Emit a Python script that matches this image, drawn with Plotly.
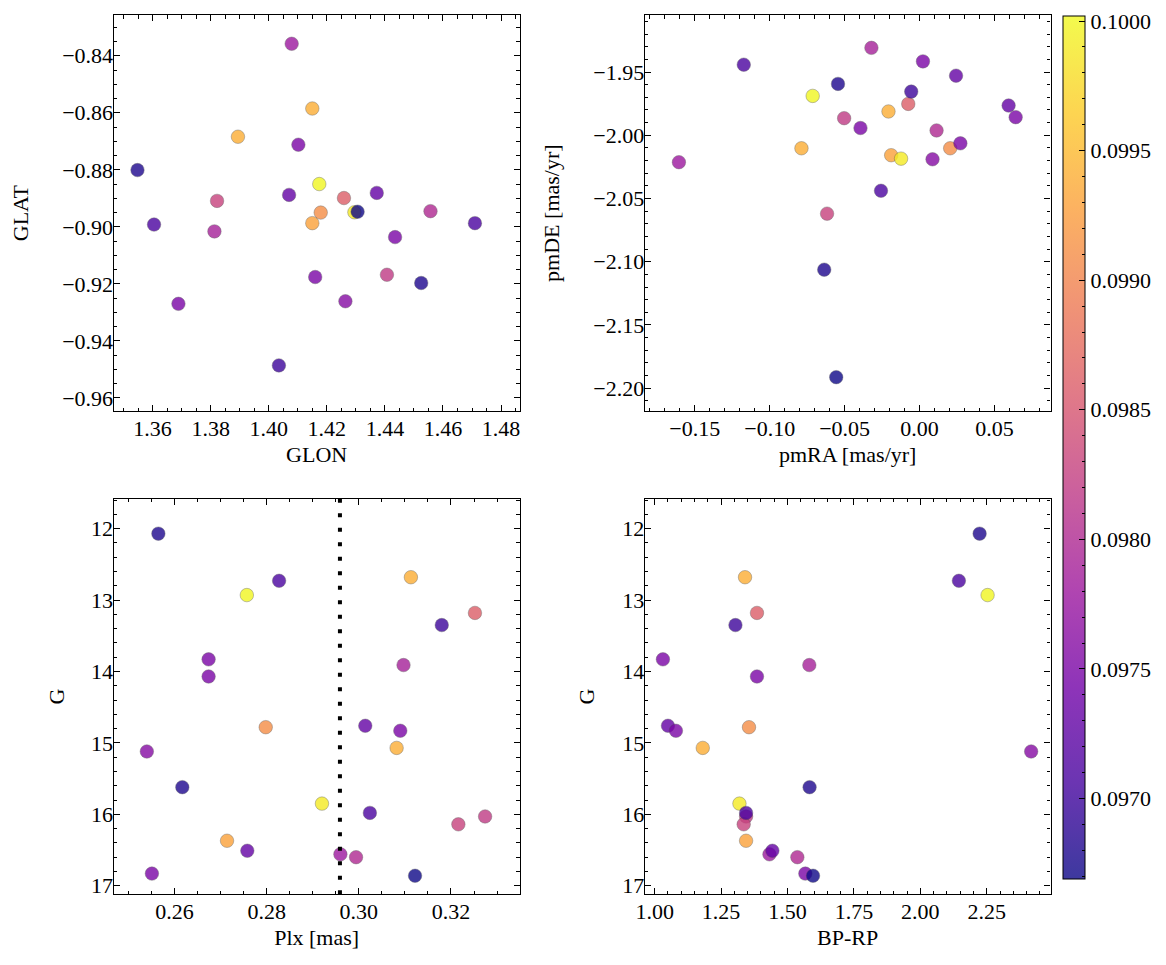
import plotly.graph_objects as go

# ---- data (one entry per star) ----
plx   = [0.3097, 0.2960, 0.2994, 0.3252, 0.3274, 0.3216, 0.2798, 0.3113, 0.3082, 0.2714,
         0.2757, 0.2920, 0.2674, 0.2674, 0.3014, 0.3090, 0.2540, 0.2758, 0.2551,
         0.2827, 0.3180, 0.3024, 0.2565, 0.2617, 0.3122]
gmag  = [13.91, 16.56, 16.60, 13.18, 16.03, 16.14, 14.78, 12.68, 15.07, 16.37,
         12.93, 15.85, 13.83, 14.07, 14.76, 14.83, 15.12, 16.51, 16.83,
         12.73, 13.35, 15.98, 12.07, 15.62, 16.86]
bprp  = [1.582, 1.432, 1.537, 1.385, 1.344, 1.335, 1.355, 1.340, 1.181, 1.344,
         2.253, 1.319, 1.031, 1.385, 1.050, 1.080, 2.417, 1.443, 1.567,
         2.145, 1.304, 1.344, 2.223, 1.583, 1.596]
glon  = [1.3813, 1.4079, 1.4557, 1.4259, 1.4407, 1.3822, 1.4179, 1.3894, 1.4150, 1.4150,
         1.4174, 1.4295, 1.3689, 1.4102, 1.4070, 1.4160, 1.4264, 1.4372, 1.4435,
         1.3605, 1.4035, 1.4710, 1.3548, 1.4525, 1.4306]
glat  = [-0.9016, -0.8358, -0.8945, -0.8899, -0.9168, -0.8909, -0.8950, -0.8684, -0.8585, -0.8987,
         -0.8850, -0.8949, -0.9270, -0.8712, -0.8888, -0.9176, -0.9261, -0.8881, -0.9036,
         -0.8992, -0.9486, -0.8987, -0.8801, -0.9197, -0.8947]
pmra  = [-0.0321, -0.1606, 0.0114, -0.0075, -0.0503, -0.0617, 0.0205, -0.0788, -0.0207, -0.0189,
         -0.0713, -0.0123, -0.0394, 0.0023, 0.0244, 0.0273, 0.0087, 0.0595, 0.0642,
         -0.1173, -0.0055, -0.0257, -0.0544, -0.0636, -0.0556]
pmde  = [-1.9309, -2.0213, -1.9962, -1.9752, -1.9865, -2.0620, -2.0103, -2.0103, -1.9812, -2.0158,
         -1.9689, -2.0185, -1.9943, -1.9416, -1.9529, -2.0064, -2.0190, -1.9765, -1.9857,
         -1.9442, -1.9655, -2.0439, -1.9594, -2.1063, -2.1913]
cval  = [0.0979, 0.0978, 0.0980, 0.0986, 0.0982, 0.0983, 0.0991, 0.0994, 0.0994, 0.0993,
         0.1000, 0.0999, 0.0975, 0.0975, 0.0973, 0.0975, 0.0976, 0.0973, 0.0975,
         0.0971, 0.0970, 0.0971, 0.0968, 0.0968, 0.0967]
PLX_REF = 0.2959
CMIN, CMAX = 0.09669, 0.10002
CB_MAJOR = [0.0970, 0.0975, 0.0980, 0.0985, 0.0990, 0.0995, 0.1000]
CB_MINOR = [0.0967, 0.0968, 0.0969, 0.0971, 0.0972, 0.0973, 0.0974, 0.0976, 0.0977, 0.0978,
            0.0979, 0.0981, 0.0982, 0.0983, 0.0984, 0.0986, 0.0987, 0.0988, 0.0989,
            0.0991, 0.0992, 0.0993, 0.0994, 0.0996, 0.0997, 0.0998, 0.0999]

plasma = ['#0d0887', '#46039f', '#7201a8', '#9c179e', '#bd3786',
          '#d8576b', '#ed7953', '#fb9f3a', '#fdca26', '#f0f921']
ALPHA = 0.8


def fade(h):
    r, g, b = int(h[1:3], 16), int(h[3:5], 16), int(h[5:7], 16)
    f = lambda c: round(ALPHA * c + (1 - ALPHA) * 255)
    return f"rgb({f(r)},{f(g)},{f(b)})"


plasma_scale = [[i / (len(plasma) - 1), c] for i, c in enumerate(plasma)]
faded_scale = [[i / (len(plasma) - 1), fade(c)] for i, c in enumerate(plasma)]
clear_scale = [[0, "rgba(0,0,0,0)"], [1, "rgba(0,0,0,0)"]]

FONT = "Liberation Serif"
FS = 22
W, H = 1166, 965
OFF = 8  # page body margin


def px_x(a, b):
    return [(a - OFF) / W, (b - OFF) / W]


def px_y(top, bottom):
    return [1 - (bottom - OFF) / H, 1 - (top - OFF) / H]


fig = go.Figure()

panels = [
    (glon, glat, "x", "y"),
    (pmra, pmde, "x2", "y2"),
    (plx, gmag, "x3", "y3"),
    (bprp, gmag, "x4", "y4"),
]
for xs, ys, xa, ya in panels:
    fig.add_trace(go.Scatter(
        x=xs, y=ys, xaxis=xa, yaxis=ya, mode="markers", showlegend=False,
        marker=dict(size=13.5, color=cval, colorscale=plasma_scale, cmin=CMIN, cmax=CMAX,
                    opacity=ALPHA, line=dict(width=0.6, color="rgba(70,70,70,0.7)"),
                    showscale=False),
    ))

# vertical dotted reference line in Plx panel
fig.add_trace(go.Scatter(
    x=[PLX_REF, PLX_REF], y=[11.58, 17.12], xaxis="x3", yaxis="y3", mode="lines",
    showlegend=False, line=dict(color="black", width=4, dash="4px,10.5px"),
))

CB_X = (1063.5 - OFF) / W
CB_Y = 1 - ((15.7 + 882.7) / 2 - OFF) / H
CB_LEN = (882.7 - 15.7) / H
cb_common = dict(x=CB_X, xanchor="left", xpad=0, ypad=0, y=CB_Y, yanchor="middle",
                 len=CB_LEN, lenmode="fraction", thickness=22, thicknessmode="pixels",
                 ticks="inside", tickcolor="black", tickwidth=1)

# colorbar carrier (faded to mimic alpha) with major ticks + labels
fig.add_trace(go.Scatter(
    x=[None], y=[None], xaxis="x", yaxis="y", mode="markers", showlegend=False,
    marker=dict(color=[CMIN], colorscale=faded_scale, cmin=CMIN, cmax=CMAX, showscale=True,
                colorbar=dict(**cb_common, outlinewidth=1, outlinecolor="black", ticklen=6,
                              tickvals=CB_MAJOR, ticktext=[f"{v:.4f}" for v in CB_MAJOR],
                              tickfont=dict(family=FONT, size=FS, color="black"))),
))
# transparent overlay colorbar carrying minor ticks
fig.add_trace(go.Scatter(
    x=[None], y=[None], xaxis="x", yaxis="y", mode="markers", showlegend=False,
    marker=dict(color=[CMIN], colorscale=clear_scale, cmin=CMIN, cmax=CMAX, showscale=True,
                colorbar=dict(**cb_common, outlinewidth=0, ticklen=3,
                              tickvals=CB_MINOR, ticktext=["" for _ in CB_MINOR],
                              tickfont=dict(family=FONT, size=FS, color="black"))),
))


def ax(domain, anchor, rng, dtick, minor, fmt, title, standoff, lab_off):
    return dict(
        domain=domain, anchor=anchor, range=rng, dtick=dtick, tick0=0, tickformat=fmt,
        showline=True, linecolor="black", linewidth=1.3, mirror="allticks",
        ticks="inside", ticklen=6, tickwidth=1, tickcolor="black",
        minor=dict(dtick=minor, tick0=0, ticks="inside", ticklen=3.5, tickwidth=1,
                   tickcolor="black", showgrid=False),
        showgrid=False, zeroline=False, ticklabelstandoff=lab_off,
        tickfont=dict(family=FONT, size=FS, color="black"),
        title=dict(text=title, font=dict(family=FONT, size=FS, color="black"), standoff=standoff),
    )


XL = px_x(105.5, 515)
XR = px_x(641.2, 1050.5)
YT = px_y(15, 413)
YB = px_y(500.7, 898)

fig.update_layout(
    width=W, height=H, autosize=False,
    margin=dict(l=0, r=0, t=0, b=0),
    paper_bgcolor="white", plot_bgcolor="white",
    font=dict(family=FONT, size=FS, color="black"),
    xaxis=ax(XL, "y", [1.3466, 1.4864], 0.02, 0.005, ".2f", "GLON", 6, -3),
    yaxis=ax(YT, "x", [-0.9647, -0.8257], 0.02, 0.005, ".2f", "GLAT", 29, -5),
    xaxis2=ax(XR, "y2", [-0.1834, 0.0875], 0.05, 0.01, ".2f", "pmRA [mas/yr]", 6, -3),
    yaxis2=ax(YT, "x2", [-2.2183, -1.9049], 0.05, 0.01, ".2f", "pmDE [mas/yr]", 27, -5),
    xaxis3=ax(XL, "y3", [0.2468, 0.3349], 0.02, 0.005, ".2f", "Plx [mas]", 6, -3),
    yaxis3=ax(YB, "x3", [17.12, 11.58], 1, 0.2, "d", "G", 20, -5),
    xaxis4=ax(XR, "y4", [0.9627, 2.490], 0.25, 0.05, ".2f", "BP-RP", 6, -3),
    yaxis4=ax(YB, "x4", [17.12, 11.58], 1, 0.2, "d", "G", 21, -5),
)

fig.write_html("out.html")
